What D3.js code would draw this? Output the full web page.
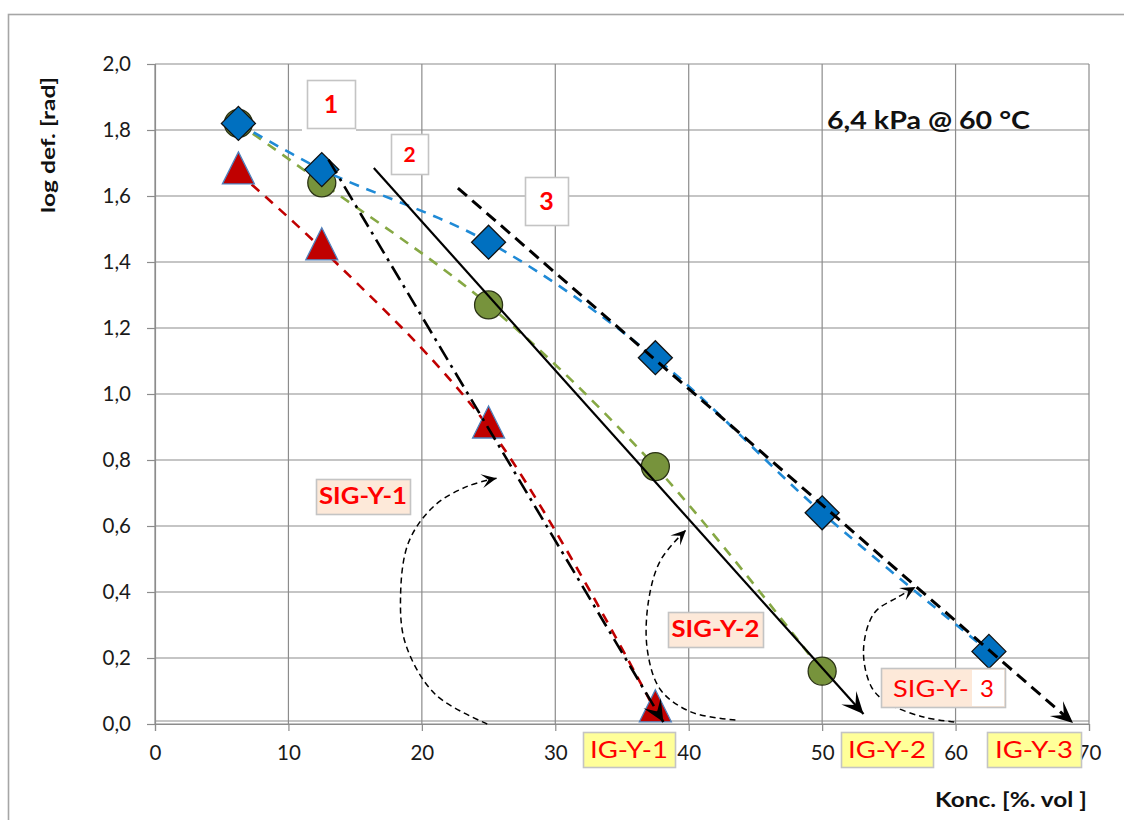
<!DOCTYPE html>
<html>
<head>
<meta charset="utf-8">
<script src="https://cdn.jsdelivr.net/npm/d3@7"></script>
<style>
  html, body { margin: 0; padding: 0; background: #fff; }
  svg { display: block; font-family: Lato, "Open Sans", "Liberation Sans", sans-serif; }
</style>
</head>
<body>
<svg id="chart" width="1124" height="820"></svg>
<script>
// ---- data -------------------------------------------------------------
const concentrations = [6.25, 12.5, 25, 37.5, 50, 62.5];   // Konc. [%. vol]
const sigY1 = [1.67, 1.44, 0.90, 0.04];                      // triangles
const sigY2 = [1.82, 1.64, 1.27, 0.78, 0.16];                // circles
const sigY3 = [1.82, 1.68, 1.46, 1.11, 0.64, 0.22];          // diamonds

const xTicks = [0, 10, 20, 30, 40, 50, 60, 70];
const yTicks = [0, 0.2, 0.4, 0.6, 0.8, 1.0, 1.2, 1.4, 1.6, 1.8, 2.0];

// straight trend arrows (start -> end, in data units)
const trendX1 = [13.0, 38.1];  const trendY1 = [1.71, 0.006];
const trendX2 = [16.4, 53.1];  const trendY2 = [1.685, 0.03];
const trendX3 = [22.7, 68.8];  const trendY3 = [1.624, 0.003];

// curved dashed arrows running from each IG intercept up to its trend line
const arcX1 = [24.9, 21.0, 18.8, 18.4, 19.0, 20.9, 23.4, 25.6];
const arcY1 = [0.00, 0.09, 0.24, 0.38, 0.55, 0.66, 0.72, 0.745];
const arcX2 = [43.5, 40.2, 37.9, 36.9, 37.0, 37.9, 39.8];
const arcY2 = [0.012, 0.036, 0.103, 0.224, 0.376, 0.497, 0.588];
const arcX3 = [59.9, 57.6, 54.9, 53.7, 53.1, 53.9, 55.7, 57.0];
const arcY3 = [0.006, 0.021, 0.064, 0.112, 0.224, 0.336, 0.385, 0.415];

// ---- layout -----------------------------------------------------------
const svg = d3.select("#chart");
const x = d3.scaleLinear().domain([0, 70]).range([155, 1089]);
const y = d3.scaleLinear().domain([0, 2]).range([724, 64]);
const fmt = v => d3.format(".1f")(v).replace(".", ",");

// outer chart frame
svg.append("rect").attr("x", 8.5).attr("y", 14.5).attr("width", 1130).attr("height", 820)
  .attr("fill", "none").attr("stroke", "#a6a6a6").attr("stroke-width", 1.6);

// gridlines
const grid = svg.append("g").attr("stroke", "#8c8c8c").attr("stroke-width", 1.2);
grid.selectAll("line.h").data(yTicks).join("line")
  .attr("x1", x(0)).attr("x2", x(70)).attr("y1", d => y(d)).attr("y2", d => y(d));
grid.selectAll("line.v").data(xTicks).join("line")
  .attr("y1", y(2)).attr("y2", y(0)).attr("x1", d => x(d)).attr("x2", d => x(d));
// second rule just above the x axis
grid.append("line").attr("x1", x(0)).attr("x2", x(70))
  .attr("y1", y(0) - 3).attr("y2", y(0) - 3);

// axes
const yAxis = svg.append("g").attr("transform", `translate(${x(0)},0)`)
  .call(d3.axisLeft(y).tickValues(yTicks).tickFormat(fmt).tickSize(8).tickPadding(16));
const xAxis = svg.append("g").attr("transform", `translate(0,${y(0)})`)
  .call(d3.axisBottom(x).tickValues(xTicks).tickFormat(d3.format("d")).tickSize(7).tickPadding(14));
[yAxis, xAxis].forEach(a => {
  a.select(".domain").attr("stroke", "#8c8c8c").attr("stroke-width", 1.2);
  a.selectAll(".tick line").attr("stroke", "#8c8c8c").attr("stroke-width", 1.2);
  a.selectAll(".tick text").attr("fill", "#1a1a1a").style("font-size", "20.5px")
    .style("font-family", "Lato, 'Open Sans', sans-serif");
});

// axis titles
svg.append("text").attr("transform", `translate(55,145) rotate(-90)`)
  .attr("text-anchor", "middle").attr("font-weight", "bold").attr("font-size", 19)
  .attr("textLength", 136).attr("lengthAdjust", "spacingAndGlyphs")
  .attr("fill", "#111").text("log def. [rad]");
svg.append("text").attr("x", 935).attr("y", 807)
  .attr("font-weight", "bold").attr("font-size", 20).attr("fill", "#111")
  .attr("textLength", 152).attr("lengthAdjust", "spacingAndGlyphs").text("Konc. [%. vol ]");

// condition label
svg.append("text").attr("x", 827).attr("y", 129).attr("font-weight", "bold")
  .attr("font-size", 24).attr("fill", "#111")
  .attr("textLength", 203).attr("lengthAdjust", "spacingAndGlyphs").text("6,4 kPa @ 60 °C");

// ---- markers for arrows ------------------------------------------------
const defs = svg.append("defs");
function arrowMarker(id, len, half) {
  defs.append("marker").attr("id", id)
    .attr("markerUnits", "userSpaceOnUse")
    .attr("viewBox", `${-len - 2} ${-half - 2} ${len + 4} ${2 * half + 4}`)
    .attr("refX", 0).attr("refY", 0)
    .attr("markerWidth", len + 4).attr("markerHeight", 2 * half + 4)
    .attr("orient", "auto")
    .append("path")
    .attr("d", `M0,0 L${-len},${-half} L${-len * 0.55},0 L${-len},${half} Z`)
    .attr("fill", "#000");
}
arrowMarker("bigArrow", 22, 10);
arrowMarker("smallArrow", 15, 7);

// ---- series -----------------------------------------------------------
const smooth = d3.line().curve(d3.curveCatmullRom.alpha(0.5))
  .x(d => x(d[0])).y(d => y(d[1]));
const zip = (xs, ys) => ys.map((v, i) => [xs[i], v]);

const pts1 = zip(concentrations, sigY1);
const pts2 = zip(concentrations, sigY2);
const pts3 = zip(concentrations, sigY3);

// SIG-Y-1 : red triangles
svg.append("path").datum(pts1).attr("d", smooth).attr("fill", "none")
  .attr("stroke", "#c00000").attr("stroke-width", 2.6).attr("stroke-dasharray", "10,8");
svg.append("g").selectAll("path").data(pts1).join("path")
  .attr("transform", d => `translate(${x(d[0])},${y(d[1])})`)
  .attr("d", "M0,-21 L16,11 L-16,11 Z")
  .attr("fill", "#c00000").attr("stroke", "#4f81bd").attr("stroke-width", 1.3);

// SIG-Y-2 : green circles
svg.append("path").datum(pts2).attr("d", smooth).attr("fill", "none")
  .attr("stroke", "#86a844").attr("stroke-width", 2.6).attr("stroke-dasharray", "10,8");
svg.append("g").selectAll("circle").data(pts2).join("circle")
  .attr("cx", d => x(d[0])).attr("cy", d => y(d[1])).attr("r", 14)
  .attr("fill", "#77933c").attr("stroke", "#2b3315").attr("stroke-width", 1.3);

// SIG-Y-3 : blue diamonds
svg.append("path").datum(pts3).attr("d", smooth).attr("fill", "none")
  .attr("stroke", "#1f8ad6").attr("stroke-width", 2.6).attr("stroke-dasharray", "10,8");
svg.append("g").selectAll("path").data(pts3).join("path")
  .attr("transform", d => `translate(${x(d[0])},${y(d[1])})`)
  .attr("d", "M0,-17 L17,0 L0,17 L-17,0 Z")
  .attr("fill", "#0070c0").attr("stroke", "#111").attr("stroke-width", 1.3);

// ---- straight trend arrows --------------------------------------------
const straight = d3.line().x(d => x(d[0])).y(d => y(d[1]));
svg.append("path").datum(zip(trendX1, trendY1)).attr("d", straight)
  .attr("stroke", "#000").attr("stroke-width", 2.6).attr("fill", "none")
  .attr("stroke-dasharray", "16,6,3,6").attr("marker-end", "url(#bigArrow)");
svg.append("path").datum(zip(trendX2, trendY2)).attr("d", straight)
  .attr("stroke", "#000").attr("stroke-width", 2.2).attr("fill", "none")
  .attr("marker-end", "url(#bigArrow)");
svg.append("path").datum(zip(trendX3, trendY3)).attr("d", straight)
  .attr("stroke", "#000").attr("stroke-width", 3).attr("fill", "none")
  .attr("stroke-dasharray", "12,7").attr("marker-end", "url(#bigArrow)");

// ---- curved dashed arrows ---------------------------------------------
[[arcX1, arcY1], [arcX2, arcY2], [arcX3, arcY3]].forEach(([ax, ay]) => {
  svg.append("path").datum(zip(ax, ay)).attr("d", smooth).attr("fill", "none")
    .attr("stroke", "#000").attr("stroke-width", 1.5).attr("stroke-dasharray", "6,4")
    .attr("marker-end", "url(#smallArrow)");
});

// ---- text boxes -------------------------------------------------------
function box(x0, y0, w, h, fill, label, size, weight, textW) {
  const g = svg.append("g");
  g.append("rect").attr("x", x0 + 0.5).attr("y", y0 + 0.5).attr("width", w).attr("height", h)
    .attr("fill", fill).attr("stroke", "#c4c4c4").attr("stroke-width", 1.6);
  if (label !== null) {
    const t = g.append("text").attr("x", x0 + w / 2).attr("y", y0 + h / 2).attr("dy", "0.36em")
      .attr("text-anchor", "middle").attr("fill", "#ff0000")
      .attr("font-size", size).attr("font-weight", weight).text(label);
    if (textW) t.attr("textLength", textW).attr("lengthAdjust", "spacingAndGlyphs");
  }
  return g;
}

// numbered series tags
svg.append("rect").attr("x", 302).attr("y", 126).attr("width", 54).attr("height", 8).attr("fill", "#fff");
box(307, 80, 48, 48, "#fff", "1", 25, "bold");
box(391, 134, 37, 40, "#fff", "2", 21, "bold");
box(525, 177, 43, 48, "#fff", "3", 25, "bold");

// SIG labels
box(316, 479, 94, 35, "#fde9d9", "SIG-Y-1", 22, "bold", 88);
box(668, 612, 95, 35, "#fde9d9", "SIG-Y-2", 22, "bold", 88);
const s3 = box(881, 668, 124, 39, "#fde9d9", null);
s3.append("rect").attr("x", 972).attr("y", 670).attr("width", 32).attr("height", 36).attr("fill", "#fff");
s3.append("text").attr("x", 893).attr("y", 688).attr("dy", "0.36em").attr("fill", "#ff0000")
  .attr("font-size", 24).attr("textLength", 76).attr("lengthAdjust", "spacingAndGlyphs").text("SIG-Y-");
s3.append("text").attr("x", 987).attr("y", 688).attr("dy", "0.36em").attr("text-anchor", "middle")
  .attr("fill", "#ff0000").attr("font-size", 24).text("3");

// IG intercept labels
box(583, 732, 92, 35, "#ffff99", "IG-Y-1", 24, "normal", 78);
box(841, 732, 92, 35, "#ffff99", "IG-Y-2", 24, "normal", 78);
box(987, 732, 94, 35, "#ffff99", "IG-Y-3", 24, "normal", 78);
</script>
</body>
</html>
